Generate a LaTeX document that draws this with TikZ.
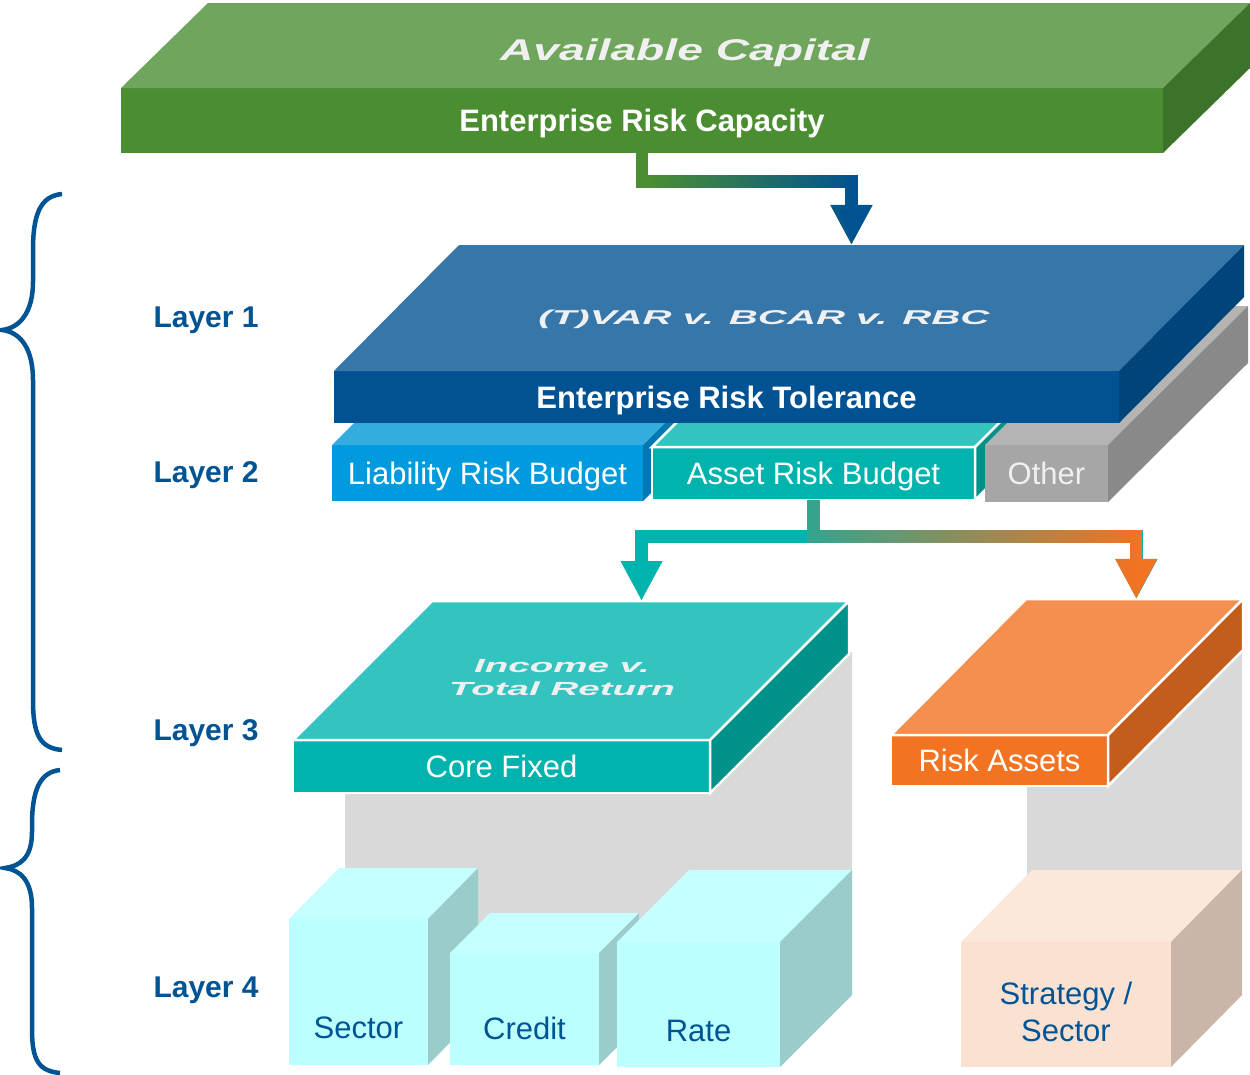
\documentclass[tikz,border=0pt]{standalone}
\usepackage{fontspec}
\setmainfont{Liberation Sans}
\usepackage{graphicx}
\usepackage{tikz}
\usetikzlibrary{arrows.meta,calc,fadings}

\definecolor{capTop}{RGB}{111,165,92}
\definecolor{capFront}{RGB}{75,142,50}
\definecolor{capSide}{RGB}{61,114,42}
\definecolor{tolTop}{RGB}{54,118,168}
\definecolor{tolFront}{RGB}{0,82,147}
\definecolor{tolSide}{RGB}{0,69,122}
\definecolor{liabTop}{RGB}{52,172,224}
\definecolor{liabFront}{RGB}{0,155,222}
\definecolor{liabSide}{RGB}{0,120,180}
\definecolor{assetTop}{RGB}{51,196,192}
\definecolor{assetFront}{RGB}{0,179,173}
\definecolor{assetSide}{RGB}{0,146,138}
\definecolor{otherTop}{RGB}{180,180,180}
\definecolor{otherFront}{RGB}{166,166,166}
\definecolor{otherSide}{RGB}{137,137,137}
\definecolor{riskTop}{RGB}{244,143,80}
\definecolor{riskFront}{RGB}{242,115,34}
\definecolor{riskSide}{RGB}{196,93,28}
\definecolor{cubeTop}{RGB}{197,255,255}
\definecolor{cubeFront}{RGB}{187,255,255}
\definecolor{cubeSide}{RGB}{155,204,204}
\definecolor{stratTop}{RGB}{252,232,218}
\definecolor{stratFront}{RGB}{250,225,210}
\definecolor{stratSide}{RGB}{201,182,168}
\definecolor{shadowgrey}{RGB}{217,217,217}
\definecolor{layerblue}{RGB}{0,84,147}

% top and right faces of a block, hung on the front-face node #1
\newcommand{\slabfaces}[4]{%
  \path[#3] (#1.north west) -- ++#2 -- ($(#1.north east)+#2$) -- (#1.north east) -- cycle;
  \path[#4] (#1.north east) -- ++#2 -- ($(#1.south east)+#2$) -- (#1.south east) -- cycle;}

% colour blends along the two flow arrows
\begin{tikzfadingfrompicture}[name=capfade, x=1bp, y=1bp]
  \fill[transparent!100] (-90,-90) rectangle (-22,90);
  \shade[left color=transparent!100, right color=transparent!0] (-22,-90) rectangle (25,90);
  \fill[transparent!0] (25,-90) rectangle (90,90);
\end{tikzfadingfrompicture}
\begin{tikzfadingfrompicture}[name=riskfade, x=1bp, y=1bp]
  \fill[transparent!100] (-90,-90) rectangle (-38,90);
  \shade[left color=transparent!100, right color=transparent!0] (-38,-90) rectangle (24,90);
  \fill[transparent!0] (24,-90) rectangle (90,90);
\end{tikzfadingfrompicture}

\begin{document}
\begin{tikzpicture}[x=1pt, y=-1pt,
    face/.style={rectangle, inner sep=0pt, outer sep=0pt},
    rimmed/.style={draw=white, line width=2.5pt},
    headline/.style={text=white, text depth=0pt, font=\fontsize{31}{37}\selectfont\bfseries},
    facetext/.style={text=white, text depth=0pt, font=\fontsize{31}{37}\selectfont},
    toptext/.style={text=white!94!black},
    cubetext/.style={text=layerblue, align=center, font=\fontsize{31}{37}\selectfont},
    layerlabel/.style={text=layerblue, anchor=west, text depth=0pt, font=\fontsize{30}{36}\selectfont\bfseries},
    brace/.style={draw=layerblue, line width=4.5pt},
    flow/.style={line width=12.5pt, -{Triangle[width=39pt,length=40pt]}},
  ]
  \fill[white] (0,0) rectangle (1250,1074);
  \useasboundingbox (0,0) rectangle (1250,1074);

  % capacity slab
  \node[face, fill=capFront, minimum width=1042pt, minimum height=65pt, headline] (cap) at (642,120.5) {Enterprise Risk Capacity};
  \slabfaces{cap}{(87,-85)}{fill=capTop}{fill=capSide}
  \node[toptext, font=\fontsize{30}{36}\selectfont\bfseries\itshape, anchor=base] (capital) at (685,60) {\scalebox{1.54}[1]{Available Capital}};

  % layer 2 budgets, left to right
  \node[face, fill=liabFront, minimum width=311pt, minimum height=56pt, facetext] (liab) at (487.5,473) {Liability Risk Budget};
  \slabfaces{liab}{(125,-125)}{fill=liabTop}{fill=liabSide}
  \node[face, rimmed, fill=assetFront, minimum width=323pt, minimum height=53pt, facetext] (asset) at (813.5,473.5) {Asset Risk Budget};
  \slabfaces{asset}{(125,-125)}{rimmed, fill=assetTop}{rimmed, fill=assetSide}
  \node[face, fill=otherFront, minimum width=123pt, minimum height=57pt, facetext, text=white!94!black] (other) at (1046.5,473.5) {Other};
  \slabfaces{other}{(140,-139)}{fill=otherTop}{fill=otherSide}

  % tolerance slab sits on the budgets
  \node[face, fill=tolFront, minimum width=785pt, minimum height=52pt, headline] (tol) at (726.5,397) {Enterprise Risk Tolerance};
  \slabfaces{tol}{(125,-126)}{fill=tolTop}{fill=tolSide}
  \node[toptext, font=\fontsize{20}{24}\selectfont\bfseries\itshape, anchor=base] (measures) at (764,324) {\scalebox{2.01}[1]{(T)VAR v. BCAR v. RBC}};

  % shadows under layer 3
  \fill[shadowgrey] (345,790) -- (712,790) -- (851,652) -- (852,652) -- (852,990) -- (345,990) -- cycle;
  \fill[shadowgrey] (1027,652) rectangle (1242,990);

  % layer 3
  \node[face, rimmed, fill=assetFront, minimum width=417pt, minimum height=53pt, facetext] (core) at (501.5,766.5) {Core Fixed};
  \slabfaces{core}{(139,-139)}{rimmed, fill=assetTop}{rimmed, fill=assetSide}
  \node[toptext, font=\fontsize{19}{23}\selectfont\bfseries\itshape] (income) at (562,679) {\scalebox{2.03}[1]{\begin{tabular}{@{}c@{}}Income v.\\Total Return\end{tabular}}};
  \node[face, rimmed, fill=riskFront, minimum width=217pt, minimum height=51pt, facetext] (risk) at (999.5,760.5) {Risk Assets};
  \slabfaces{risk}{(135,-136)}{rimmed, fill=riskTop}{rimmed, fill=riskSide}

  % layer 4 cubes
  \node[face, fill=cubeFront, minimum width=139pt, minimum height=146pt] (sector) at (358.5,992) {};
  \slabfaces{sector}{(50,-51)}{fill=cubeTop}{fill=cubeSide}
  \node[cubetext] (sectorlabel) at ([yshift=37pt]sector.south) {Sector};
  \node[face, fill=cubeFront, minimum width=149pt, minimum height=112pt] (credit) at (524.5,1009) {};
  \slabfaces{credit}{(40,-40)}{fill=cubeTop}{fill=cubeSide}
  \node[cubetext] (creditlabel) at ([yshift=37pt]credit.south) {Credit};
  \node[face, fill=cubeFront, minimum width=163pt, minimum height=125pt] (rate) at (698.5,1004.5) {};
  \slabfaces{rate}{(72,-72)}{fill=cubeTop}{fill=cubeSide}
  \node[cubetext] (ratelabel) at ([yshift=36pt]rate.south) {Rate};
  \node[face, fill=stratFront, minimum width=210pt, minimum height=125pt] (strategy) at (1066,1004.5) {};
  \slabfaces{strategy}{(71,-72)}{fill=stratTop}{fill=stratSide}
  \node[cubetext] (strategylabel) at ([yshift=55pt]strategy.south) {Strategy /\\Sector};

  % flow arrows
  \coordinate (tolback) at ($(tol.north)+(125,-126)$);
  \coordinate (coreback) at ($(core.north)+(140,-139)$);
  \coordinate (riskback) at ($(risk.north)+(137,-136)$);
  \draw[flow, capFront] (cap.south) -- ++(0,28.5) -| (tolback);
  \draw[flow, tolFront, path fading=capfade] (cap.south) -- ++(0,28.5) -| (tolback);
  \draw[flow, assetFront] (asset.south) -- ++(0,36.5) -| (coreback);
  \draw[flow, assetFront] (asset.south) -- ++(0,36.5) -| (riskback);
  \draw[flow, riskFront, path fading=riskfade] (asset.south) -- ++(0,36.5) -| (riskback);

  % layer braces and labels
  \draw[brace] (62,194) .. controls (40,196) and (33,215) .. (33,250) -- (33,282)
    .. controls (33,312) and (20,328) .. (2,330) .. controls (20,332) and (33,348) .. (33,380)
    -- (33,700) .. controls (33,735) and (40,748) .. (62,750);
  \draw[brace] (60,770) .. controls (40,772) and (32,790) .. (32,825) -- (32,832)
    .. controls (32,858) and (20,866) .. (5,868) .. controls (20,870) and (32,880) .. (32,908)
    -- (32,1030) .. controls (32,1062) and (40,1071) .. (60,1073);
  \node[layerlabel] (layer1) at (150,317) {Layer 1};
  \node[layerlabel] (layer2) at (150,472) {Layer 2};
  \node[layerlabel] (layer3) at (150,730) {Layer 3};
  \node[layerlabel] (layer4) at (150,987) {Layer 4};
\end{tikzpicture}
\end{document}
